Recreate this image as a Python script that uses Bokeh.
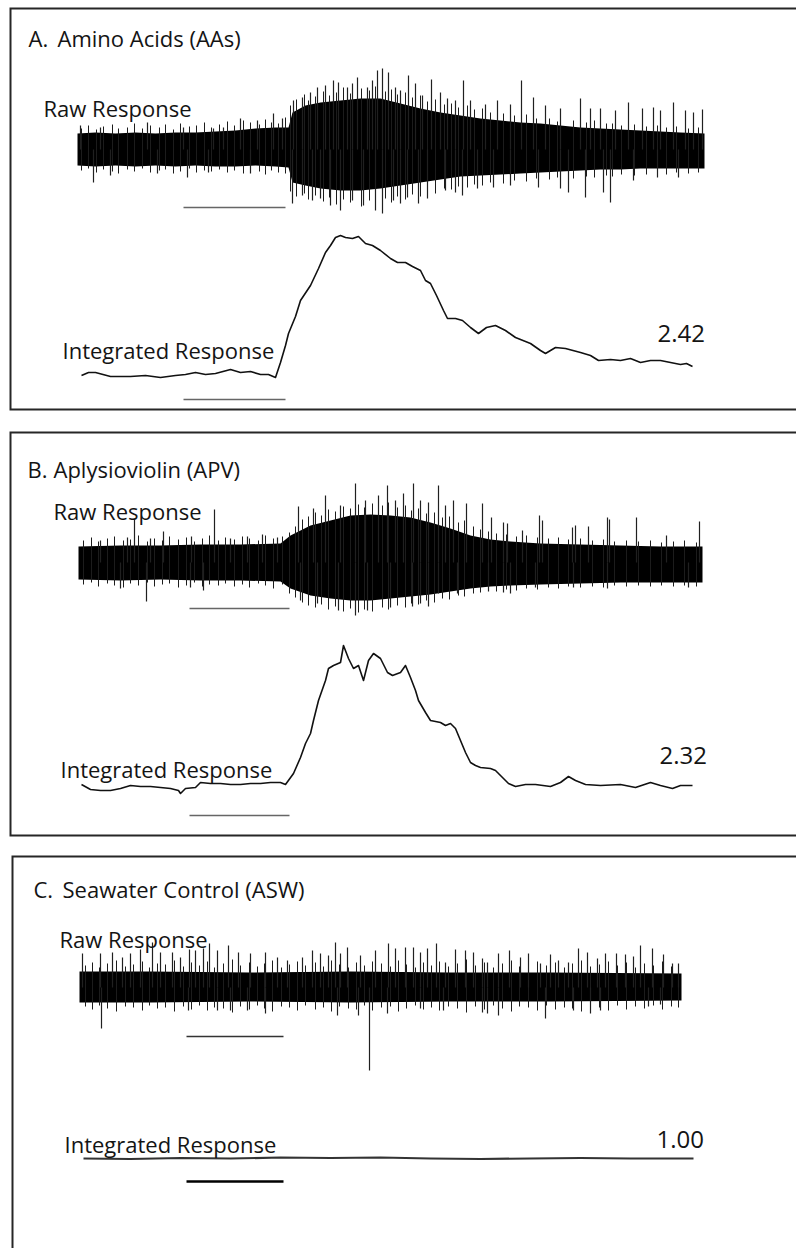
from bokeh.plotting import figure
from bokeh.models import Range1d
from bokeh.core.properties import value
from bokeh.embed import file_html
from bokeh.resources import INLINE

# ---------------- data ----------------
panel_letters = ["A.", "B.", "C."]
panel_names = ["Amino Acids (AAs)", "Aplysioviolin (APV)", "Seawater Control (ASW)"]
raw_label = "Raw Response"
int_label = "Integrated Response"
response_ratios = [2.42, 2.32, 1.00]
stim_on = [10.6, 11.1, 10.7]    # s
stim_off = [20.8, 21.1, 20.4]   # s

# Panel A - raw recording: dense band envelope, large spikes, small edge spikes
rawA_t = [0.0, 1.8, 3.8, 5.8, 7.8, 9.8, 11.8, 13.8, 15.8, 17.8, 19.8, 21.1, 21.5, 22.8, 24.3, 26.3, 28.3,
          30.3, 32.3, 34.3, 36.3, 38.3, 40.3, 42.3, 44.3, 46.3, 48.3, 50.3, 52.3, 54.3, 56.3, 58.3, 60.3, 62.7]
rawA_hi = [16, 17, 16, 17, 16, 17, 17, 18, 19, 21, 22, 22, 37, 44, 47, 49, 51, 51, 46, 41, 37, 34, 31, 29,
           27, 26, 24, 22, 21, 20, 19, 18, 17, 16]
rawA_lo = [-16, -17, -16, -17, -16, -17, -16, -17, -17, -16, -17, -18, -33, -36, -39, -41, -41, -39, -36,
           -33, -30, -27, -26, -25, -24, -23, -22, -21, -20, -20, -19, -19, -19, -19]
spkA_up_t = [0.3, 2.3, 7.0, 10.6, 13.6, 14.6, 16.3, 18.0, 19.6, 20.5, 21.6, 22.5, 23.3, 24.0, 24.8, 25.6,
             26.1, 27.0, 27.5, 28.0, 29.0, 29.5, 30.0, 30.5, 31.1, 31.8, 32.3, 33.1, 33.8, 34.5, 35.4, 36.3,
             37.0, 37.8, 38.6, 39.3, 40.8, 42.0, 43.3, 44.4, 45.6, 46.8, 48.3, 50.3, 51.3, 52.3, 53.8, 55.1,
             56.5, 57.6, 58.3, 59.6, 60.8, 61.6, 62.5]
spkA_up_v = [24, 22, 27, 22, 21, 22, 31, 29, 36, 31, 49, 52, 57, 62, 64, 69, 67, 62, 66, 72, 62, 69, 79, 81,
             77, 62, 59, 74, 66, 54, 70, 57, 51, 49, 69, 49, 45, 49, 45, 69, 52, 44, 41, 51, 41, 41, 39, 47,
             41, 42, 39, 47, 39, 37, 40]
spkA_dn_t = [1.6, 3.3, 8.0, 11.0, 13.1, 17.3, 21.5, 22.5, 23.5, 24.3, 25.3, 26.3, 27.5, 28.6, 29.8, 30.5,
             31.6, 32.3, 33.0, 34.1, 35.0, 36.8, 37.8, 38.5, 40.0, 41.6, 43.3, 46.1, 48.3, 49.1, 50.8, 52.6,
             53.3, 55.6, 58.0, 60.1]
spkA_dn_v = [-33, -26, -24, -28, -23, -24, -54, -46, -51, -49, -56, -61, -51, -56, -61, -64, -51, -54, -48,
             -54, -49, -41, -43, -46, -39, -38, -36, -38, -39, -43, -48, -43, -53, -31, -28, -28]
edgA_t = [0.4, 1.1, 1.9, 2.6, 3.5, 4.1, 5.0, 5.7, 6.5, 7.3, 8.2, 8.8, 9.6, 10.3, 11.2, 11.9, 12.7, 13.4,
          14.2, 15.0, 15.7, 16.6, 17.3, 18.2, 18.8, 19.4, 20.1, 20.8, 21.3, 21.9, 22.7, 23.1, 23.8, 24.6,
          25.2, 25.9, 26.6, 27.3, 28.4, 29.2, 29.8, 30.8, 31.4, 32.0, 32.8, 33.5, 34.3, 35.0, 35.8, 36.7,
          37.4, 38.1, 39.0, 39.7, 40.5, 41.3, 42.6, 43.7, 44.9, 45.9, 47.2, 48.0, 49.6, 50.9, 51.7, 52.9,
          53.5, 54.4, 55.7, 56.9, 58.0, 58.9, 59.9, 61.1, 62.1]
edgA_hi = [21, 24, 20, 23, 25, 21, 22, 26, 21, 24, 22, 25, 20, 26, 23, 24, 27, 22, 25, 28, 24, 29, 27, 25,
           30, 27, 26, 32, 44, 50, 55, 49, 53, 58, 54, 57, 62, 56, 61, 59, 63, 58, 60, 55, 57, 52, 54, 48,
           50, 45, 46, 42, 44, 40, 41, 37, 36, 34, 35, 31, 31, 28, 29, 27, 29, 26, 26, 24, 25, 23, 24, 22,
           23, 21, 22]
edgA_lo = [-21, -19, -23, -20, -22, -24, -20, -22, -19, -23, -21, -20, -24, -22, -19, -23, -21, -22, -20,
           -23, -21, -24, -20, -22, -25, -21, -23, -24, -42, -47, -44, -50, -46, -52, -48, -55, -50, -53,
           -57, -51, -55, -49, -53, -47, -50, -45, -47, -42, -44, -39, -40, -37, -38, -35, -36, -33, -34,
           -31, -32, -29, -30, -28, -29, -27, -28, -26, -27, -25, -26, -25, -24, -25, -23, -24, -23]
# Panel A - integrated response
intA_t = [0.4, 1.1, 1.8, 3.3, 5.3, 6.8, 8.3, 9.8, 10.8, 11.8, 12.8, 13.8, 15.3, 16.3, 17.3, 18.3, 19.1, 19.8,
          20.3, 20.8, 21.1, 21.8, 22.3, 23.3, 24.1, 24.8, 25.3, 25.8, 26.3, 26.8, 27.5, 28.1, 28.8, 29.5,
          30.3, 31.3, 32.0, 32.8, 33.5, 34.3, 34.8, 35.3, 35.9, 36.6, 37.0, 37.8, 38.5, 39.3, 40.1, 40.9,
          41.8, 42.8, 43.8, 45.3, 46.3, 46.8, 47.8, 48.8, 50.3, 51.3, 52.1, 53.3, 54.3, 55.3, 56.3, 57.3,
          58.3, 59.3, 60.3, 60.9, 61.5]
intA_v = [0, 3, 3, -1, -1, 0, -2, 0, 1, 3, 1, 2, 6, 3, 4, 1, 1, -2, 13, 30, 42, 59, 75, 90, 107, 123, 130,
          138, 140, 138, 137, 139, 132, 130, 125, 117, 113, 113, 109, 105, 95, 92, 80, 65, 57, 57, 55, 48,
          42, 48, 50, 45, 38, 32, 25, 22, 28, 27, 23, 20, 15, 16, 15, 17, 13, 15, 15, 13, 11, 12, 9]

# Panel B - raw
rawB_t = [0.0, 4.2, 8.2, 12.2, 16.2, 20.2, 21.2, 23.2, 25.2, 27.2, 29.2, 31.2, 33.2, 35.2, 37.2, 39.2, 41.2,
          43.2, 46.2, 50.2, 54.2, 58.2, 62.4]
rawB_hi = [16, 17, 17, 18, 18, 19, 27, 37, 42, 47, 48, 47, 45, 40, 34, 27, 23, 21, 19, 18, 17, 16, 16]
rawB_lo = [-17, -18, -17, -18, -18, -19, -26, -33, -36, -38, -38, -36, -34, -32, -29, -26, -24, -23, -22,
           -21, -20, -20, -20]
spkB_up_t = [2.2, 4.9, 5.6, 7.2, 8.5, 11.3, 13.6, 15.2, 16.9, 18.4, 19.9, 22.0, 23.5, 24.7, 26.2, 27.7,
             28.7, 30.0, 30.9, 31.7, 32.5, 33.5, 34.2, 35.0, 36.0, 36.7, 37.5, 38.8, 40.4, 41.3, 42.5, 42.9,
             44.4, 46.1, 46.4, 49.4, 49.7, 51.0, 52.9, 53.1, 55.8, 58.8, 62.1]
spkB_up_v = [22, 25, 43, 24, 31, 26, 53, 24, 26, 28, 25, 56, 54, 67, 57, 79, 62, 67, 77, 62, 69, 79, 62, 60,
             77, 57, 62, 59, 59, 45, 40, 39, 32, 47, 42, 35, 37, 36, 45, 43, 45, 27, 41]
spkB_dn_t = [4.2, 6.8, 11.2, 12.5, 22.2, 23.9, 26.0, 27.7, 28.9, 31.2, 33.4, 34.2, 35.0, 36.0, 37.9, 41.0,
             42.5, 43.2, 45.7, 49.5, 52.9, 61.0]
spkB_dn_v = [-26, -39, -25, -28, -38, -41, -48, -53, -48, -45, -44, -41, -44, -31, -31, -29, -30, -31, -25,
             -25, -26, -25]
edgB_t = [0.5, 1.3, 2.0, 2.9, 3.6, 4.5, 5.2, 6.0, 6.9, 7.6, 8.4, 9.1, 10.0, 10.8, 11.6, 12.4, 13.1, 14.0,
          14.7, 15.6, 16.4, 17.1, 18.0, 18.7, 19.5, 20.4, 21.1, 21.7, 22.4, 23.0, 23.7, 24.3, 25.0, 25.7,
          26.5, 27.2, 28.0, 28.6, 29.4, 30.4, 31.0, 31.9, 32.7, 33.3, 34.0, 34.8, 35.6, 36.4, 37.1, 38.0,
          38.6, 39.5, 40.2, 41.0, 41.8, 42.8, 43.8, 44.8, 45.9, 47.0, 48.0, 49.0, 50.2, 51.4, 52.5, 53.6,
          54.8, 56.0, 57.2, 58.3, 59.5, 60.6, 61.8]
edgB_hi = [22, 25, 21, 24, 26, 22, 23, 27, 21, 24, 22, 26, 23, 25, 21, 24, 27, 22, 25, 23, 26, 24, 22, 27,
           24, 26, 30, 36, 43, 46, 50, 47, 53, 51, 56, 54, 58, 55, 59, 57, 60, 55, 57, 52, 54, 49, 50, 45,
           46, 40, 42, 36, 33, 31, 29, 28, 26, 27, 25, 24, 25, 23, 24, 22, 23, 21, 22, 21, 22, 20, 21, 22, 20]
edgB_lo = [-22, -20, -24, -21, -23, -25, -21, -23, -20, -24, -22, -21, -25, -23, -20, -24, -22, -23, -21,
           -24, -22, -25, -21, -23, -26, -22, -31, -35, -40, -43, -45, -42, -47, -44, -49, -46, -50, -47,
           -49, -45, -47, -43, -45, -41, -42, -38, -40, -36, -37, -33, -34, -31, -30, -28, -29, -27, -28,
           -26, -27, -25, -26, -24, -25, -24, -25, -23, -24, -23, -24, -23, -24, -23, -24]
# Panel B - integrated
intB_t = [0.3, 1.2, 2.2, 3.2, 4.2, 5.2, 6.2, 7.2, 8.2, 9.2, 10.0, 10.2, 10.7, 11.7, 12.2, 13.2, 14.2, 15.2,
          16.2, 17.2, 18.2, 19.2, 20.2, 20.7, 21.5, 22.2, 22.7, 23.2, 23.5, 24.0, 24.7, 25.0, 25.5, 26.2,
          26.5, 27.0, 27.5, 28.0, 28.5, 29.0, 29.5, 30.2, 30.9, 31.4, 32.2, 32.7, 33.2, 33.7, 34.0, 34.7,
          35.2, 36.2, 36.7, 37.2, 37.7, 38.2, 38.7, 39.2, 39.7, 40.2, 41.2, 41.7, 42.2, 43.0, 43.7, 44.7,
          45.7, 47.2, 48.2, 49.0, 49.7, 50.7, 52.2, 54.2, 55.7, 57.2, 58.2, 59.4, 60.2, 61.4]
intB_v = [1, -4, -5, -5, -3, 0, -1, -1, -2, -3, -5, -8, -3, -2, 3, 2, 2, 1, 1, 2, 2, 3, 3, 1, 12, 28, 42,
          52, 65, 85, 105, 117, 120, 123, 140, 127, 117, 120, 105, 125, 132, 127, 113, 110, 113, 120, 108,
          95, 85, 73, 65, 63, 60, 62, 57, 45, 33, 23, 20, 18, 17, 15, 10, 2, -1, 1, 1, -1, 3, 9, 5, 1, 0,
          1, -2, 3, 0, -3, 0, 0]

# Panel C - raw
rawC_t = [0.0, 7.1, 17.1, 27.1, 37.1, 47.1, 60.2]
rawC_hi = [16, 16, 15, 16, 15, 15, 14]
rawC_lo = [-15, -15, -14, -15, -14, -14, -13]
spkC_up_t = [0.3, 2.1, 3.3, 4.3, 5.1, 6.1, 7.3, 8.1, 9.3, 10.1, 11.0, 11.6, 12.4, 13.0, 13.8, 14.9, 15.9,
             17.1, 18.6, 19.8, 20.8, 22.3, 23.3, 24.1, 24.9, 25.6, 26.1, 26.8, 28.1, 29.6, 30.9, 31.6, 32.6,
             33.4, 34.1, 34.8, 35.7, 36.6, 37.6, 38.6, 39.4, 40.3, 40.8, 41.9, 43.0, 44.1, 44.9, 46.1, 47.1,
             47.9, 48.9, 49.9, 50.8, 51.8, 52.6, 53.7, 54.6, 55.4, 56.1, 57.3, 58.4, 59.3, 59.9]
spkC_up_v = [34, 34, 35, 30, 34, 38, 45, 35, 35, 30, 38, 37, 39, 44, 37, 42, 35, 34, 35, 30, 27, 30, 37, 34,
             32, 45, 34, 40, 32, 37, 44, 39, 40, 40, 35, 39, 44, 25, 38, 37, 35, 29, 25, 34, 37, 30, 34, 24,
             33, 27, 25, 39, 35, 29, 34, 34, 33, 31, 42, 39, 33, 24, 24]
spkC_dn_t = [2.2, 10.9, 13.8, 15.1, 16.8, 18.6, 25.8, 27.9, 29.0, 30.8, 34.1, 36.4, 40.3, 40.8, 41.9, 46.6,
             49.4, 51.1, 52.1, 56.9, 58.1]
spkC_dn_v = [-41, -23, -23, -23, -23, -26, -28, -28, -83, -26, -21, -23, -25, -26, -28, -31, -23, -26, -23,
             -19, -17]
edgC_t = [0.6, 1.3, 2.0, 2.8, 3.7, 4.6, 5.4, 6.3, 7.0, 7.8, 8.6, 9.5, 10.4, 11.2, 12.0, 12.8, 13.5, 14.4,
          15.3, 16.1, 17.0, 17.8, 18.5, 19.3, 20.2, 21.0, 21.8, 22.6, 23.6, 24.4, 25.2, 26.0, 26.9, 27.7,
          28.5, 29.3, 30.2, 31.1, 31.9, 32.7, 33.6, 34.4, 35.2, 36.0, 36.9, 37.8, 38.7, 39.6, 40.5, 41.4,
          42.3, 43.2, 44.0, 44.9, 45.8, 46.7, 47.6, 48.5, 49.3, 50.2, 51.1, 52.0, 52.9, 53.8, 54.7, 55.6,
          56.5, 57.4, 58.3, 59.2, 59.9]
edgC_hi = [22, 25, 20, 24, 27, 21, 23, 26, 20, 24, 23, 27, 21, 25, 22, 26, 20, 24, 28, 22, 25, 21, 24, 27,
           20, 23, 26, 22, 25, 21, 27, 23, 20, 25, 22, 26, 24, 21, 27, 23, 20, 25, 22, 26, 21, 24, 28, 22,
           25, 20, 24, 27, 21, 23, 26, 22, 25, 20, 24, 27, 21, 23, 26, 22, 25, 20, 24, 22, 26, 21, 23]
edgC_lo = [-19, -22, -18, -21, -24, -19, -20, -23, -18, -21, -20, -24, -19, -22, -18, -23, -20, -21, -25,
           -19, -22, -18, -21, -24, -19, -20, -23, -18, -22, -20, -24, -19, -21, -22, -18, -23, -20, -19,
           -24, -21, -18, -22, -20, -23, -19, -21, -25, -19, -22, -18, -21, -24, -19, -20, -23, -18, -22,
           -20, -21, -24, -19, -20, -23, -18, -22, -19, -21, -18, -22, -19, -20]
# Panel C - integrated
intC_t = [0.4, 5.1, 10.1, 15.1, 20.1, 25.1, 30.1, 35.1, 40.1, 45.1, 50.1, 55.1, 61.4]
intC_v = [0, -0.5, 0.5, 0, 1, 0.5, 1, 0, -0.5, 0, 0.5, 0, 0]

# ---------------- layout ----------------
W, H = 796, 1248
OX, OY = 0, 0   # page offset used for the layout coordinates

def time_range(t0_page, px_per_s):
    start = -(t0_page - OX) / px_per_s
    return Range1d(start, start + W / px_per_s)

def amp_range(zero_page, px_per_unit=1.0):
    return Range1d(-(OY + H - zero_page) / px_per_unit, (zero_page - OY) / px_per_unit)

p = figure(width=W, height=H, output_backend="svg", toolbar_location=None,
           x_range=Range1d(OX, OX + W), y_range=Range1d(OY + H, OY), min_border=0)
p.xaxis.visible = False
p.yaxis.visible = False
p.grid.visible = False
p.outline_line_color = None
p.background_fill_color = "white"
p.border_fill_color = "white"

panels = [
    dict(tr="tA", t0=77, raw="rawA", raw0=149, itg="intA", int0=375, rb=-58, ib=-24,
         env=(rawA_t, rawA_hi, rawA_lo), up=(spkA_up_t, spkA_up_v), dn=(spkA_dn_t, spkA_dn_v),
         edge=(edgA_t, edgA_hi, edgA_lo), it=(intA_t, intA_v), box=(8, 409, 10),
         title_y=37, lx=28, nx=57, raw_lbl=(43, 107), int_lbl=(62, 349), ratio=(657, 333),
         rbar=dict(color="#666666", w=1.6), ibar=dict(color="#666666", w=1.6), iline=dict(color="#111111", w=1.6)),
    dict(tr="tB", t0=78, raw="rawB", raw0=562, itg="intB", int0=785, rb=-46, ib=-30,
         env=(rawB_t, rawB_hi, rawB_lo), up=(spkB_up_t, spkB_up_v), dn=(spkB_dn_t, spkB_dn_v),
         edge=(edgB_t, edgB_hi, edgB_lo), it=(intB_t, intB_v), box=(432, 835, 10),
         title_y=468, lx=27, nx=53, raw_lbl=(53, 510), int_lbl=(60, 768), ratio=(659, 755),
         rbar=dict(color="#666666", w=1.6), ibar=dict(color="#666666", w=1.6), iline=dict(color="#111111", w=1.6)),
    dict(tr="tC", t0=79, raw="rawC", raw0=987, itg="intC", int0=1158, rb=-49, ib=-23,
         env=(rawC_t, rawC_hi, rawC_lo), up=(spkC_up_t, spkC_up_v), dn=(spkC_dn_t, spkC_dn_v),
         edge=(edgC_t, edgC_hi, edgC_lo), it=(intC_t, intC_v), box=(856, None, 12),
         title_y=888, lx=33, nx=62, raw_lbl=(59, 938), int_lbl=(64, 1143), ratio=(656, 1139),
         rbar=dict(color="#333333", w=1.3), ibar=dict(color="#000000", w=2.6), iline=dict(color="#333333", w=2.2)),
]

font = value("Open Sans")
for i, pn in enumerate(panels):
    p.extra_x_ranges[pn["tr"]] = time_range(pn["t0"], 10.0)
    p.extra_y_ranges[pn["raw"]] = amp_range(pn["raw0"])
    p.extra_y_ranges[pn["itg"]] = amp_range(pn["int0"])

    # panel border (open on the right, as in the original figure)
    top, bottom, left = pn["box"]
    if bottom is None:
        bx, by = [OX + W + 5, left, left], [top, top, OY + H + 5]
    else:
        bx, by = [OX + W + 5, left, left, OX + W + 5], [top, top, bottom, bottom]
    p.line(bx, by, line_color="#262626", line_width=2, line_join="miter")

    kw_raw = dict(x_range_name=pn["tr"], y_range_name=pn["raw"])
    kw_int = dict(x_range_name=pn["tr"], y_range_name=pn["itg"])

    et, eh, el = pn["env"]
    p.varea(x=et, y1=el, y2=eh, fill_color="black", **kw_raw)
    gt, gh, gl = pn["edge"]
    p.segment(x0=gt, y0=gl, x1=gt, y1=gh, line_color="#1c1c1c", line_width=1.0, **kw_raw)
    ut, uv = pn["up"]
    p.segment(x0=ut, y0=[0] * len(ut), x1=ut, y1=uv, line_color="#202020", line_width=1.2, **kw_raw)
    dt, dv = pn["dn"]
    p.segment(x0=dt, y0=[0] * len(dt), x1=dt, y1=dv, line_color="#202020", line_width=1.2, **kw_raw)

    # stimulus bars
    p.segment(x0=[stim_on[i]], y0=[pn["rb"]], x1=[stim_off[i]], y1=[pn["rb"]],
              line_color=pn["rbar"]["color"], line_width=pn["rbar"]["w"], **kw_raw)
    p.segment(x0=[stim_on[i]], y0=[pn["ib"]], x1=[stim_off[i]], y1=[pn["ib"]],
              line_color=pn["ibar"]["color"], line_width=pn["ibar"]["w"], **kw_int)

    # integrated response
    itt, itv = pn["it"]
    p.line(itt, itv, line_color=pn["iline"]["color"], line_width=pn["iline"]["w"], line_join="round", **kw_int)

    # texts
    p.text(x=[pn["lx"], pn["nx"], pn["raw_lbl"][0], pn["int_lbl"][0]],
           y=[pn["title_y"], pn["title_y"], pn["raw_lbl"][1], pn["int_lbl"][1]],
           text=[panel_letters[i], panel_names[i], raw_label, int_label],
           text_font=font, text_font_size="22px", text_color="#141414",
           text_baseline="alphabetic", text_align="left")
    p.text(x=[pn["ratio"][0]], y=[pn["ratio"][1]], text=[f"{response_ratios[i]:.2f}"],
           text_font=font, text_font_size="24px", text_color="#141414",
           text_baseline="alphabetic", text_align="left")

open("out.html", "w").write(file_html(p, INLINE))
